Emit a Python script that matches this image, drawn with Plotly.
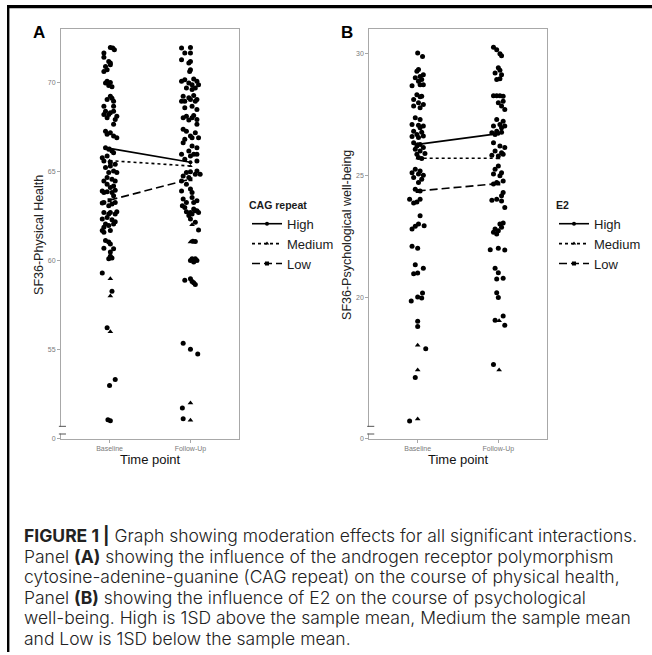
import plotly.graph_objects as go

# ---------------- DATA ----------------
categories = ["Baseline", "Follow-Up"]
groups = ["High", "Medium", "Low"]

# Panel A: SF36-Physical Health, individual observations (value, horizontal jitter)
a_base_y = [71.96, 71.99, 71.86, 71.68, 71.45, 71.21, 71.12, 70.93, 71.02, 70.74, 70.65, 70.09, 70.03, 70.0,
            69.85, 69.78, 69.25, 69.14, 69.07, 68.97, 68.69, 68.69, 68.41, 68.41, 68.32, 68.13, 68.23, 68.23,
            67.95, 68.04, 67.67, 67.29, 67.2, 67.01, 67.11, 66.92, 66.36, 66.27, 66.17, 66.08, 65.8, 65.61,
            65.52, 65.89, 65.33, 65.43, 65.24, 65.05, 64.96, 64.96, 64.68, 64.59, 64.49, 64.49, 64.31, 64.21,
            64.12, 63.93, 63.88, 63.84, 63.97, 63.84, 63.65, 63.28, 63.19, 63.09, 62.72, 62.63, 63.25, 63.28,
            62.72, 62.63, 62.76, 62.44, 62.35, 62.31, 62.07, 61.98, 62.2, 62.07, 61.89, 61.7, 61.61, 61.7,
            61.14, 61.05, 60.95, 60.71, 60.67, 60.49, 60.11, 60.26, 60.15, 59.31, 58.28, 56.23, 52.99, 53.32,
            51.06, 51.01]
a_base_jit = [0.04, 0.01, 0.06, -0.07, -0.07, -0.01, 0.01, -0.05, 0.01, -0.03, -0.07, -0.03, 0.01, -0.05,
              -0.01, 0.03, 0.01, 0.03, -0.03, 0.05, -0.07, 0.05, -0.05, 0.05, 0.01, 0.09, -0.07, -0.01,
              0.07, -0.03, 0.05, -0.05, 0.01, 0.05, -0.03, 0.09, -0.05, -0.01, 0.03, 0.05, -0.09, -0.07,
              0.01, -0.03, 0.01, 0.07, -0.05, 0.05, -0.01, 0.09, -0.03, 0.03, 0.07, -0.07, -0.03, 0.05,
              0.01, -0.09, -0.03, 0.03, 0.07, -0.07, 0.05, -0.07, 0.03, -0.01, 0.01, 0.07, -0.09, 0.07,
              -0.07, -0.01, 0.09, -0.03, -0.09, 0.03, -0.05, -0.01, 0.07, 0.05, -0.07, -0.09, -0.07, 0.01,
              -0.05, -0.01, 0.01, -0.07, 0.05, 0.01, -0.01, 0.01, 0.03, -0.09, 0.03, -0.03, 0.0, 0.07,
              -0.02, 0.01]
a_base_tri_y = [58.99, 58.02, 56.01]
a_base_tri_jit = [0.01, 0.01, 0.01]

a_fu_y = [71.96, 71.99, 71.68, 71.68, 71.3, 71.21, 71.12, 70.74, 70.65, 70.18, 70.22, 70.09, 70.09, 70.0,
          69.9, 69.9, 69.72, 69.63, 69.72, 69.25, 69.16, 69.29, 69.07, 68.97, 69.07, 68.97, 68.97, 68.6,
          68.69, 68.51, 68.13, 68.17, 68.04, 68.04, 67.95, 67.91, 67.67, 67.39, 67.29, 67.01, 67.2, 66.92,
          66.92, 66.83, 66.64, 66.45, 66.36, 66.17, 65.99, 65.99, 65.99, 65.89, 65.71, 65.61, 64.96, 65.0,
          65.05, 64.87, 64.87, 64.77, 64.68, 64.49, 64.31, 63.93, 64.03, 63.84, 63.47, 63.56, 63.28, 63.0,
          62.91, 62.72, 62.81, 63.09, 63.28, 63.37, 62.76, 62.63, 62.81, 62.72, 62.54, 62.35, 62.17, 61.73,
          61.08, 61.1, 60.02, 59.93, 60.02, 60.11, 60.11, 58.9, 58.99, 58.77, 58.66, 58.84, 55.36, 55.02,
          54.76, 51.72, 51.12]
a_fu_jit = [-0.11, 0.0, -0.07, 0.0, -0.11, 0.0, -0.02, 0.0, -0.01, -0.07, 0.04, 0.08, -0.11, -0.02,
            0.02, 0.1, -0.05, 0.02, 0.06, -0.09, -0.02, 0.04, 0.08, -0.07, 0.0, 0.06, -0.11, -0.07,
            0.02, 0.08, -0.05, 0.04, -0.09, 0.02, 0.08, -0.02, 0.08, -0.09, -0.05, 0.0, 0.06, 0.02,
            0.1, -0.07, -0.09, 0.02, 0.08, -0.02, 0.08, -0.11, 0.04, 0.0, -0.07, 0.08, -0.05, 0.0,
            0.08, 0.06, 0.12, -0.09, -0.02, -0.11, -0.05, -0.11, 0.0, 0.02, -0.09, 0.02, -0.05, -0.07,
            0.04, 0.0, 0.08, -0.1, 0.04, 0.08, -0.05, 0.02, 0.06, 0.1, -0.02, 0.0, 0.06, 0.1,
            0.06, 0.03, 0.0, 0.04, 0.08, 0.02, 0.06, -0.07, 0.0, 0.04, 0.06, 0.02, -0.09, 0.0,
            0.09, -0.1, -0.09]
a_fu_tri_y = [62.03, 61.05, 52.01, 51.03]
a_fu_tri_jit = [0.02, 0.0, 0.0, 0.0]

# Panel A moderation lines (CAG repeat)
a_lines = {"High": [66.32, 65.54], "Medium": [65.63, 65.33], "Low": [63.41, 64.59]}

# Panel B: SF36-Psychological well-being
b_base_y = [30.03, 29.89, 29.35, 29.28, 29.14, 29.07, 29.01, 28.94, 28.87, 28.69, 28.73, 28.73, 28.32, 28.23,
            28.12, 28.26, 27.99, 27.85, 27.92, 27.78, 27.37, 27.3, 27.1, 27.06, 27.03, 26.96, 26.82, 26.78,
            26.69, 26.62, 26.6, 26.56, 26.35, 26.21, 26.27, 26.15, 26.08, 26.01, 25.91, 25.87, 25.74, 25.7,
            25.26, 25.19, 25.12, 25.06, 25.01, 24.92, 24.85, 24.72, 24.44, 24.37, 24.03, 23.92, 23.87, 24.03,
            23.35, 22.94, 23.01, 22.92, 22.81, 22.1, 22.02, 21.34, 21.2, 20.97, 21.0, 20.18, 19.85, 20.02,
            19.98, 19.02, 18.81, 17.89, 16.71, 14.93]
b_base_jit = [0.0, 0.06, 0.01, -0.01, 0.07, 0.03, -0.03, 0.05, 0.01, -0.07, 0.03, 0.07, -0.01, 0.03,
              -0.05, 0.05, 0.01, -0.05, 0.07, 0.03, -0.03, 0.03, -0.07, 0.01, 0.07, 0.03, -0.05, 0.05,
              -0.01, 0.07, -0.07, 0.01, -0.05, -0.01, 0.03, 0.07, -0.03, 0.03, 0.09, -0.01, 0.01, 0.05,
              -0.03, 0.03, -0.07, 0.01, 0.07, -0.05, 0.05, 0.01, -0.03, 0.03, -0.1, -0.01, -0.05, 0.03,
              0.03, 0.08, 0.01, -0.03, -0.07, -0.07, 0.0, -0.03, 0.07, -0.05, 0.0, 0.06, -0.08, 0.0,
              0.05, 0.0, 0.0, 0.1, -0.03, -0.1]
b_base_tri_y = [18.04, 17.02, 15.01]
b_base_tri_jit = [0.0, 0.0, 0.0]

b_fu_y = [30.27, 30.16, 30.0, 29.92, 29.42, 29.32, 29.21, 29.14, 28.94, 28.97, 28.28, 28.28, 28.28, 28.26,
          27.99, 28.05, 27.85, 27.71, 27.3, 27.23, 27.1, 27.03, 27.03, 26.96, 26.82, 26.76, 26.78, 26.69,
          26.35, 26.21, 26.15, 26.01, 25.94, 25.8, 25.83, 25.87, 25.39, 25.26, 25.12, 25.06, 24.99, 24.72,
          24.78, 24.65, 24.31, 24.17, 23.99, 24.03, 23.96, 23.69, 22.81, 23.01, 23.05, 22.67, 22.74, 22.88,
          22.6, 21.96, 22.02, 21.95, 21.2, 21.01, 20.76, 20.79, 20.19, 20.0, 19.06, 19.24, 18.86, 17.25]
b_fu_jit = [-0.06, -0.02, 0.02, 0.04, 0.0, 0.02, -0.04, 0.04, -0.02, 0.02, -0.06, -0.02, 0.02, 0.06,
            0.0, 0.06, 0.04, 0.08, -0.02, 0.06, 0.02, -0.06, 0.08, 0.04, -0.02, -0.08, 0.04, -0.04,
            -0.06, 0.02, 0.08, -0.04, 0.04, 0.0, -0.08, 0.06, 0.0, -0.04, 0.04, -0.06, 0.02, -0.02,
            0.06, -0.06, 0.06, 0.04, -0.08, -0.02, 0.04, 0.08, -0.04, 0.02, 0.06, -0.06, 0.0, 0.04,
            -0.02, -0.1, 0.0, 0.08, -0.04, 0.0, -0.02, 0.06, -0.02, 0.0, -0.04, 0.06, 0.08, -0.06]
b_fu_tri_y = [19.04, 17.02]
b_fu_tri_jit = [0.01, 0.01]

# Panel B moderation lines (E2)
b_lines = {"High": [26.28, 26.72], "Medium": [25.71, 25.71], "Low": [24.37, 24.67]}

# axis settings (value ranges and tick labels)
a_range = [49.98, 73.04]
a_ticks = [49.98, 55, 60, 65, 70]
a_ticktext = ["0", "55", "60", "65", "70"]
b_range = [14.19, 31.02]
b_ticks = [14.19, 20, 25, 30]
b_ticktext = ["0", "20", "25", "30"]

caption_lines = [
    "<b>FIGURE 1 |</b> Graph showing moderation effects for all significant interactions.",
    "Panel <b>(A)</b> showing the influence of the androgen receptor polymorphism",
    "cytosine-adenine-guanine (CAG repeat) on the course of physical health,",
    "Panel <b>(B)</b> showing the influence of E2 on the course of psychological",
    "well-being. High is 1SD above the sample mean, Medium the sample mean",
    "and Low is 1SD below the sample mean.",
]

# ---------------- FIGURE ----------------
W, H = 652, 655
fig = go.Figure()

line_styles = {"High": ("solid", "circle"), "Medium": ("3px,3px", "triangle-up"), "Low": ("8px,4px", "square")}


def add_points(xcat, ys, jits, symbol, xa, ya):
    fig.add_trace(go.Scatter(
        x=[xcat + j for j in jits], y=ys, mode="markers", xaxis=xa, yaxis=ya,
        marker=dict(symbol=symbol, size=5, color="black", line=dict(width=0)),
        showlegend=False, hoverinfo="y"))


add_points(1, a_base_y, a_base_jit, "circle", "x", "y")
add_points(1, a_base_tri_y, a_base_tri_jit, "triangle-up", "x", "y")
add_points(2, a_fu_y, a_fu_jit, "circle", "x", "y")
add_points(2, a_fu_tri_y, a_fu_tri_jit, "triangle-up", "x", "y")
add_points(1, b_base_y, b_base_jit, "circle", "x2", "y2")
add_points(1, b_base_tri_y, b_base_tri_jit, "triangle-up", "x2", "y2")
add_points(2, b_fu_y, b_fu_jit, "circle", "x2", "y2")
add_points(2, b_fu_tri_y, b_fu_tri_jit, "triangle-up", "x2", "y2")

for g in groups:
    dash, sym = line_styles[g]
    fig.add_trace(go.Scatter(x=[1, 2], y=a_lines[g], mode="lines+markers", name=g, xaxis="x", yaxis="y",
                             line=dict(color="black", width=1.6, dash=dash),
                             marker=dict(symbol=sym, size=4, color="black"), legend="legend"))
for g in groups:
    dash, sym = line_styles[g]
    fig.add_trace(go.Scatter(x=[1, 2], y=b_lines[g], mode="lines+markers", name=g, xaxis="x2", yaxis="y2",
                             line=dict(color="black", width=1.6, dash=dash),
                             marker=dict(symbol=sym, size=4, color="black"), legend="legend2"))

# empty trace on a frame-only subplot (draws the figure border via its axis lines)
fig.add_trace(go.Scatter(x=[None], y=[None], xaxis="x3", yaxis="y3", showlegend=False, hoverinfo="skip"))

top_px, bot_px = 29, 441
ydom = [1 - bot_px / H, 1 - top_px / H]
axcol = "#a8a8a8"
tickfont = dict(family="Liberation Sans, Arial, sans-serif", size=7, color="#7a7a7a")


def xaxis_cfg(l, r):
    return dict(domain=[l / W, r / W], range=[0.4, 2.6], tickvals=[1, 2], ticktext=categories,
                showgrid=False, zeroline=False, showline=True, mirror=True, linecolor=axcol, linewidth=1,
                ticks="outside", ticklen=3, tickcolor=axcol, tickfont=tickfont, fixedrange=True)


def yaxis_cfg(rng, tv, tt, anchor):
    return dict(domain=ydom, range=rng, tickvals=tv, ticktext=tt, anchor=anchor,
                showgrid=False, zeroline=False, showline=True, mirror=True, linecolor=axcol, linewidth=1,
                ticks="outside", ticklen=3, tickcolor=axcol, tickfont=tickfont, fixedrange=True)


frame_axis = dict(showgrid=False, zeroline=False, showticklabels=False, ticks="", showline=True,
                  linecolor="black", linewidth=1.8, fixedrange=True, range=[0, 1])

fig.update_layout(
    width=W, height=H, margin=dict(l=0, r=0, t=0, b=0),
    paper_bgcolor="white", plot_bgcolor="rgba(0,0,0,0)",
    font=dict(family="Liberation Sans, Arial, sans-serif", color="#1a1a1a"),
    xaxis=xaxis_cfg(61, 239), yaxis=yaxis_cfg(a_range, a_ticks, a_ticktext, "x"),
    xaxis2=xaxis_cfg(369.3, 546.7), yaxis2=yaxis_cfg(b_range, b_ticks, b_ticktext, "x2"),
    xaxis3=dict(frame_axis, domain=[8.5 / W, 1.0], anchor="y3", side="top"),
    yaxis3=dict(frame_axis, domain=[0.0, 1 - 7.5 / H], anchor="x3", side="left"),
    legend=dict(x=247 / W, y=1 - 196 / H, xanchor="left", yanchor="top", bgcolor="rgba(0,0,0,0)",
                title=dict(text="<b>CAG repeat</b>", font=dict(size=10.5)), font=dict(size=13),
                tracegroupgap=0),
    legend2=dict(x=554 / W, y=1 - 196 / H, xanchor="left", yanchor="top", bgcolor="rgba(0,0,0,0)",
                 title=dict(text="<b>E2</b>", font=dict(size=10.5)), font=dict(size=13),
                 tracegroupgap=0),
)

shapes = []
# outer figure frame (left and top edges) as shapes as well
shapes.append(dict(type="rect", xref="paper", yref="paper", x0=7.6 / W, x1=9.4 / W, y0=0, y1=1 - 6.6 / H,
                   fillcolor="black", line=dict(width=0), layer="above"))
shapes.append(dict(type="rect", xref="paper", yref="paper", x0=7.6 / W, x1=1.0, y0=1 - 8.4 / H, y1=1 - 6.6 / H,
                   fillcolor="black", line=dict(width=0), layer="above"))
# axis breaks on the y axes
span = bot_px - top_px
for xr in ["x domain", "x2 domain"]:
    yr = "y domain" if xr == "x domain" else "y2 domain"
    g0 = (bot_px - 435.5) / span
    g1 = (bot_px - 428.8) / span
    shapes.append(dict(type="rect", xref=xr, yref=yr, x0=-0.012, x1=0.012, y0=g0, y1=g1,
                       fillcolor="white", line=dict(width=0), layer="above"))
    for gy in [(bot_px - 436) / span, (bot_px - 428.3) / span]:
        shapes.append(dict(type="line", xref=xr, yref=yr, x0=-0.012, x1=0.028, y0=gy, y1=gy,
                           line=dict(color="#555555", width=1), layer="above"))
fig.update_layout(shapes=shapes)

ann = []
ann.append(dict(text="<b>A</b>", x=39 / W, y=1 - 33 / H, xref="paper", yref="paper", showarrow=False,
                font=dict(size=17, color="black"), xanchor="center", yanchor="middle"))
ann.append(dict(text="<b>B</b>", x=347 / W, y=1 - 33 / H, xref="paper", yref="paper", showarrow=False,
                font=dict(size=17, color="black"), xanchor="center", yanchor="middle"))
ann.append(dict(text="SF36-Physical Health", x=39 / W, y=1 - 236 / H, xref="paper", yref="paper",
                showarrow=False, textangle=-90, font=dict(size=12.5, color="#222"),
                xanchor="center", yanchor="middle"))
ann.append(dict(text="SF36-Psychological well-being", x=347 / W, y=1 - 236 / H, xref="paper", yref="paper",
                showarrow=False, textangle=-90, font=dict(size=12.5, color="#222"),
                xanchor="center", yanchor="middle"))
ann.append(dict(text="Time point", x=150 / W, y=1 - 462 / H, xref="paper", yref="paper", showarrow=False,
                font=dict(size=13, color="#111"), xanchor="center", yanchor="middle"))
ann.append(dict(text="Time point", x=458 / W, y=1 - 462 / H, xref="paper", yref="paper", showarrow=False,
                font=dict(size=13, color="#111"), xanchor="center", yanchor="middle"))
cap_y0, cap_dy = 538, 20.6
for i, t in enumerate(caption_lines):
    ann.append(dict(text=t, x=22 / W, y=1 - (cap_y0 + i * cap_dy) / H, xref="paper", yref="paper",
                    showarrow=False, font=dict(family="Inter, Liberation Sans, sans-serif", size=17.5,
                                               color="#222", weight=300),
                    xanchor="left", yanchor="middle"))
fig.update_layout(annotations=ann)

fig.write_html("out.html", post_script="document.body.style.margin='0px';",
               config={"displayModeBar": False})
